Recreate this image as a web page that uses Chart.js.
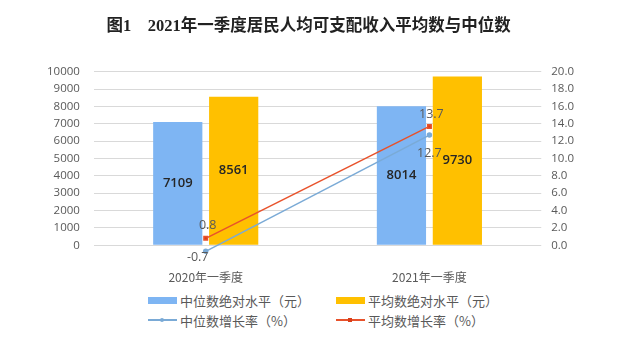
<!DOCTYPE html>
<html>
<head>
<meta charset="utf-8">
<script src="https://cdn.jsdelivr.net/npm/chart.js@4.4.1/dist/chart.umd.min.js"></script>
<style>
  html, body { margin: 0; padding: 0; background: #fff; }
  #wrap { position: relative; width: 641px; height: 342px; }
  #legend {
    position: absolute; left: 148px; top: 291px;
    display: grid; grid-template-columns: 188px 188px; row-gap: 2px;
    font-family: 'Noto Sans CJK SC', 'Noto Sans', sans-serif; font-size: 13px; color: #595959;
  }
  .item { display: flex; align-items: center; height: 18px; white-space: nowrap; }
  .box { width: 29px; height: 7px; margin-right: 3px; }
  .ln { position: relative; width: 29px; height: 1.5px; margin-right: 3px; }
  .ln i { position: absolute; left: 12px; top: -1.5px; width: 4px; height: 4px; }
</style>
</head>
<body>
<div id="wrap">
  <canvas id="ventasPorMes" width="641" height="290"></canvas>
  <div id="legend"></div>
</div>
<script>
const categories = ['2020年一季度', '2021年一季度'];
const medianLevel = [7109, 8014];
const meanLevel = [8561, 9730];
const medianGrowth = [-0.7, 12.7];
const meanGrowth = [0.8, 13.7];
const leftTicks = [0, 1000, 2000, 3000, 4000, 5000, 6000, 7000, 8000, 9000, 10000];
const rightTicks = [0, 2, 4, 6, 8, 10, 12, 14, 16, 18, 20];

const tickFont = { family: "'Open Sans', 'Noto Sans CJK SC', sans-serif", size: 11.5 };

// value labels: bars in the middle, line points above/below
const valueLabels = {
  id: 'valueLabels',
  afterDatasetsDraw(chart) {
    const ctx = chart.ctx;
    ctx.save();
    ctx.textAlign = 'center';
    ctx.textBaseline = 'middle';
    chart.data.datasets.forEach((ds, i) => {
      const meta = chart.getDatasetMeta(i);
      meta.data.forEach((el, j) => {
        const v = ds.data[j];
        if (ds.type === 'bar') {
          ctx.font = "600 13px 'Open Sans', sans-serif";
          ctx.fillStyle = '#262626';
          ctx.fillText(String(v), el.x, (el.y + el.base) / 2);
        } else {
          ctx.font = "12.5px 'Open Sans', sans-serif";
          ctx.fillStyle = '#595959';
          const off = ds.labelOffset[j];
          ctx.fillText(v.toFixed(1), el.x + off[0], el.y + off[1]);
        }
      });
    });
    ctx.restore();
  }
};

const ctx = document.getElementById('ventasPorMes');
const chart = new Chart(ctx, {
  data: {
    labels: categories,
    datasets: [
      {
        type: 'bar', label: '中位数绝对水平（元）', data: medianLevel,
        backgroundColor: '#7EB5F3', yAxisID: 'y', order: 2,
        barPercentage: 0.88, categoryPercentage: 0.5
      },
      {
        type: 'bar', label: '平均数绝对水平（元）', data: meanLevel,
        backgroundColor: '#FFC000', yAxisID: 'y', order: 2,
        barPercentage: 0.88, categoryPercentage: 0.5
      },
      {
        type: 'line', label: '中位数增长率（%）', data: medianGrowth,
        borderColor: '#7AAAD6', backgroundColor: '#7AAAD6', borderWidth: 1.5,
        pointStyle: 'circle', pointRadius: 2, yAxisID: 'y1', order: 1,
        labelOffset: [[-8, 6], [0, 18]]
      },
      {
        type: 'line', label: '平均数增长率（%）', data: meanGrowth,
        borderColor: '#E8522B', backgroundColor: '#D9401A', borderWidth: 1.5,
        pointStyle: 'rect', pointRadius: 2.5, yAxisID: 'y1', order: 0,
        labelOffset: [[2, -13], [2, -12]]
      }
    ]
  },
  options: {
    responsive: false,
    animation: false,
    layout: { padding: { left: 33, right: 57, top: 0, bottom: 5 } },
    plugins: {
      legend: { display: false },
      tooltip: { enabled: false },
      title: {
        display: true,
        text: '图1    2021年一季度居民人均可支配收入平均数与中位数',
        color: '#222',
        font: { family: "'Liberation Serif', 'Noto Sans CJK SC', serif", size: 16.5, weight: 'bold' },
        padding: { top: 17, bottom: 35 }
      }
    },
    scales: {
      x: {
        grid: { display: false },
        border: { display: false },
        ticks: { color: '#595959', font: { family: "'Noto Sans CJK SC', sans-serif", size: 12 }, padding: 0 }
      },
      y: {
        position: 'left',
        min: -1000, max: 10000,
        afterBuildTicks: (axis) => { axis.ticks = [-1000].concat(leftTicks).map(v => ({ value: v })); },
        ticks: {
          color: '#595959', font: tickFont, padding: 14,
          callback: (v) => (v < 0 ? null : String(v))
        },
        grid: { color: '#D9D9D9', drawTicks: false },
        border: { display: false }
      },
      y1: {
        position: 'right',
        min: -2, max: 20,
        afterBuildTicks: (axis) => { axis.ticks = [-2].concat(rightTicks).map(v => ({ value: v })); },
        ticks: {
          color: '#595959', font: tickFont, padding: 10,
          callback: (v) => (v < 0 ? null : v.toFixed(1))
        },
        grid: { display: false, drawTicks: false },
        border: { display: false }
      }
    }
  },
  plugins: [valueLabels]
});

// legend below the canvas, two columns
const legendEl = document.getElementById('legend');
chart.data.datasets.forEach((ds) => {
  const item = document.createElement('div');
  item.className = 'item';
  let swatch;
  if (ds.type === 'bar') {
    swatch = '<span class="box" style="background:' + ds.backgroundColor + '"></span>';
  } else {
    const r = ds.pointStyle === 'circle' ? '50%' : '0';
    swatch = '<span class="ln" style="background:' + ds.borderColor + '"><i style="background:' +
      ds.backgroundColor + ';border-radius:' + r + '"></i></span>';
  }
  item.innerHTML = swatch + '<span>' + ds.label + '</span>';
  legendEl.appendChild(item);
});
</script>
</body>
</html>
